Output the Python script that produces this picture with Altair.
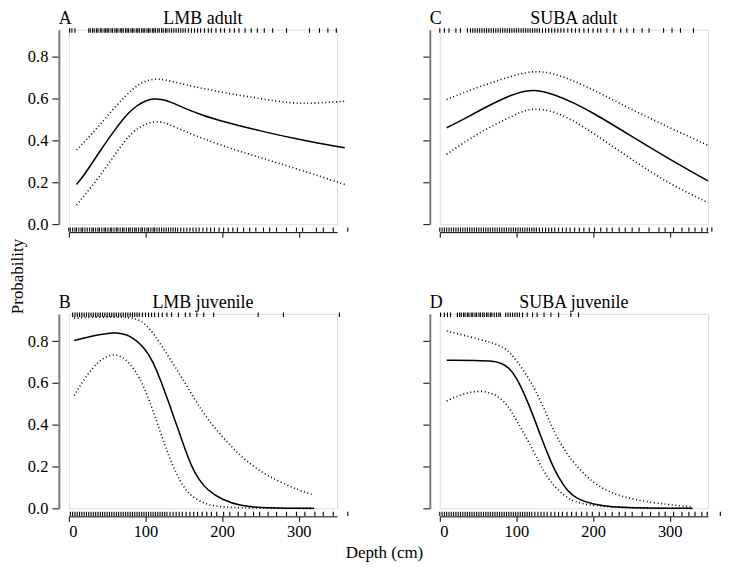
import altair as alt
import pandas as pd

FONT = "Liberation Serif"

# ---------------- Panel A: LMB adult ----------------
a_fit_d = [10, 20, 30, 40, 50, 62, 75, 88, 100, 110, 120, 135, 150, 175, 200, 250, 300, 360]
a_fit_p = [0.19, 0.235, 0.29, 0.345, 0.40, 0.46, 0.523, 0.566, 0.59, 0.6, 0.599, 0.582,
           0.555, 0.52, 0.492, 0.445, 0.405, 0.365]
a_up_d = [10, 30, 50, 75, 90, 100, 112, 125, 150, 200, 250, 290, 320, 360]
a_up_p = [0.355, 0.43, 0.517, 0.62, 0.666, 0.685, 0.695, 0.692, 0.668, 0.63, 0.60, 0.578,
          0.577, 0.588]
a_lo_d = [10, 30, 50, 75, 90, 100, 115, 130, 150, 200, 250, 300, 360]
a_lo_p = [0.092, 0.18, 0.278, 0.413, 0.46, 0.479, 0.495, 0.48, 0.445, 0.374, 0.318, 0.262,
          0.19]
a_rug_top = [1, 4, 8, 26, 28, 31, 33, 36, 38, 41, 43, 46, 48, 50, 52, 55, 57, 60, 62, 64,
             67, 69, 71, 74, 76, 78, 81, 83, 85, 88, 90, 92, 95, 97, 99, 102, 104, 106, 109,
             111, 113, 116, 118, 121, 123, 126, 128, 131, 134, 137, 140, 143, 146, 149, 152,
             156, 160, 164, 168, 172, 177, 182, 186, 192, 198, 203, 210, 216, 222, 230, 238,
             246, 255, 266, 284, 314, 327, 338, 349]
a_rug_bot = [0, 2, 5, 8, 10, 13, 16, 18, 21, 24, 27, 30, 32, 35, 38, 40, 43, 46, 48, 51, 54,
             56, 59, 62, 64, 67, 70, 72, 75, 78, 80, 83, 86, 88, 91, 94, 96, 99, 102, 104, 107,
             110, 112, 115, 118, 121, 124, 127, 130, 133, 136, 139, 142, 146, 150, 154, 158,
             162, 166, 170, 175, 180, 185, 190, 196, 202, 208, 214, 220, 228, 236, 244, 254,
             262, 271, 284, 297, 305, 323, 332, 345, 364]

# ---------------- Panel C: SUBA adult ----------------
c_fit_d = [9, 30, 50, 75, 100, 123, 150, 175, 200, 250, 300, 350]
c_fit_p = [0.461, 0.50, 0.54, 0.588, 0.628, 0.647, 0.62, 0.58, 0.533, 0.421, 0.31, 0.207]
c_up_d = [9, 50, 100, 125, 150, 175, 200, 250, 300, 350]
c_up_p = [0.596, 0.657, 0.716, 0.735, 0.72, 0.685, 0.644, 0.549, 0.461, 0.377]
c_lo_d = [9, 50, 100, 120, 150, 175, 200, 250, 300, 350]
c_lo_p = [0.334, 0.437, 0.528, 0.557, 0.54, 0.493, 0.437, 0.31, 0.191, 0.103]
c_rug_top = [0, 6, 12, 21, 27, 36, 40, 43, 46, 49, 52, 55, 58, 61, 64, 67, 70, 73, 76, 79, 82,
             85, 88, 91, 94, 97, 100, 103, 106, 109, 112, 115, 118, 121, 124, 127, 130, 134,
             138, 142, 146, 150, 154, 158, 162, 167, 172, 177, 182, 188, 194, 200, 206, 210,
             218, 227, 236, 244, 253, 264, 273, 292, 303, 314, 331]
c_rug_bot = [0, 3, 6, 9, 12, 15, 18, 21, 24, 27, 30, 33, 36, 39, 42, 45, 48, 51, 54, 57, 60,
             63, 66, 69, 72, 75, 78, 81, 84, 87, 90, 93, 96, 99, 102, 105, 108, 111, 114, 117,
             120, 123, 126, 130, 134, 138, 142, 146, 150, 155, 160, 165, 170, 176, 182, 188,
             195, 202, 210, 218, 225, 234, 242, 251, 260, 273, 286, 294, 305, 316, 325, 333,
             342, 349, 355]

# ---------------- Panel B: LMB juvenile ----------------
b_fit_d = [7, 30, 60, 80, 100, 110, 120, 130, 140, 150, 160, 170, 180, 200, 225, 250, 285, 320]
b_fit_p = [0.803, 0.824, 0.845, 0.83, 0.765, 0.70, 0.612, 0.51, 0.405, 0.30, 0.2, 0.135,
           0.09, 0.04, 0.011, 0.003, 0.001, 0.0]
b_up_d = [7, 30, 60, 80, 90, 100, 112, 125, 150, 175, 200, 225, 250, 275, 300, 320]
b_up_p = [0.91, 0.915, 0.915, 0.913, 0.905, 0.882, 0.83, 0.755, 0.612, 0.453, 0.342, 0.246,
          0.175, 0.127, 0.087, 0.064]
b_lo_d = [7, 30, 55, 75, 90, 100, 110, 120, 130, 140, 150, 160, 180, 200, 250, 320]
b_lo_p = [0.54, 0.678, 0.748, 0.718, 0.64, 0.565, 0.465, 0.358, 0.255, 0.167, 0.1, 0.056,
          0.017, 0.005, 0.001, 0.0]
b_rug_top = [5, 8, 11, 14, 17, 20, 23, 26, 29, 32, 35, 38, 41, 44, 47, 50, 53, 56, 59, 62, 65,
             68, 71, 74, 77, 80, 83, 86, 89, 92, 96, 100, 104, 108, 112, 117, 122, 128, 134,
             143, 152, 158, 167, 176, 189, 247, 280, 353]
b_rug_bot = [2, 5, 8, 11, 14, 17, 20, 23, 26, 29, 32, 35, 38, 41, 44, 47, 50, 53, 56, 59, 62,
             65, 68, 71, 74, 77, 80, 83, 86, 89, 92, 95, 98, 101, 104, 107, 110, 113, 116, 119,
             122, 125, 128, 132, 136, 140, 144, 148, 153, 158, 163, 168, 174, 180, 186, 193,
             202, 210, 221, 230, 241, 249, 260, 271, 284, 297, 308, 321, 332, 345, 364]

# ---------------- Panel D: SUBA juvenile ----------------
d_fit_d = [9, 50, 70, 80, 91, 100, 110, 121, 132, 143, 154, 167, 180, 200, 225, 250, 290, 330]
d_fit_p = [0.708, 0.708, 0.704, 0.695, 0.672, 0.625, 0.55, 0.453, 0.342, 0.239, 0.151, 0.08,
           0.043, 0.019, 0.007, 0.003, 0.001, 0.0]
d_up_d = [9, 50, 80, 91, 100, 115, 125, 139, 150, 163, 175, 200, 225, 250, 300, 330]
d_up_p = [0.848, 0.811, 0.78, 0.747, 0.708, 0.628, 0.565, 0.453, 0.358, 0.278, 0.215, 0.119,
          0.072, 0.043, 0.016, 0.008]
d_lo_d = [9, 30, 55, 75, 89, 100, 115, 130, 140, 150, 163, 175, 200, 250, 330]
d_lo_p = [0.514, 0.549, 0.567, 0.541, 0.493, 0.421, 0.326, 0.215, 0.151, 0.103, 0.059, 0.032,
          0.011, 0.002, 0.0]
d_rug_top = [1, 6, 10, 14, 23, 26, 28, 31, 33, 36, 38, 41, 43, 46, 48, 51, 53, 56, 58, 61, 63,
             66, 68, 71, 74, 77, 79, 86, 89, 92, 95, 98, 101, 104, 108, 114, 121, 127, 136,
             145, 155, 171, 181]
d_rug_bot = [0, 3, 6, 9, 12, 15, 18, 21, 24, 27, 30, 33, 36, 39, 42, 45, 48, 51, 54, 57, 60,
             63, 66, 69, 72, 75, 78, 81, 84, 87, 90, 93, 96, 99, 102, 105, 108, 111, 114, 117,
             120, 124, 128, 132, 136, 140, 145, 150, 155, 160, 166, 172, 178, 185, 192, 199,
             208, 216, 225, 234, 242, 251, 264, 275, 286, 294, 305, 316, 325, 333, 342, 349,
             366]

x_ticks = [0, 50, 100, 150, 200, 250, 300, 350]
y_ticks = [0.0, 0.2, 0.4, 0.6, 0.8]

W, H = 269, 195
TICK_FS = 16.5
NAME_FS = 18
AXT_FS = 17


def panel(letter, name, fit_d, fit_p, up_d, up_p, lo_d, lo_p, rug_top, rug_bot,
          bottom_row, left_col):
    fit = pd.DataFrame({"depth": fit_d, "prob": fit_p})
    ci = pd.DataFrame({
        "depth": up_d + lo_d,
        "prob": up_p + lo_p,
        "band": ["upper"] * len(up_d) + ["lower"] * len(lo_d),
    })
    rt = pd.DataFrame({"depth": rug_top})
    rb = pd.DataFrame({"depth": rug_bot})
    lab = pd.DataFrame({"letter": [letter], "name": [name]})

    xs = alt.Scale(domain=[0, 350], nice=False, zero=False)
    ys = alt.Scale(domain=[0, 0.93], nice=False, zero=False)

    x_kw = dict(values=x_ticks, grid=False, offset=8, tickSize=5, domainColor="black",
                tickColor="black", labels=bottom_row, labelFont=FONT, labelFontSize=TICK_FS,
                labelColor="black", labelPadding=2,
                labelExpr="datum.value % 100 == 0 ? datum.label : ''")
    if bottom_row and left_col:
        x_axis = alt.Axis(title="Depth (cm)", titleFont=FONT, titleFontSize=AXT_FS,
                          titleFontWeight="normal", titleColor="black",
                          titleX=316, titleY=41, titleAlign="center",
                          titleBaseline="alphabetic", **x_kw)
    else:
        x_axis = alt.Axis(title=None, **x_kw)

    y_kw = dict(values=y_ticks, format=".1f", grid=False, offset=10, tickSize=7,
                domainColor="#7a7a7a", domainWidth=2, tickColor="black", labels=left_col,
                labelFont=FONT, labelFontSize=TICK_FS, labelColor="black", labelPadding=4)
    if left_col and not bottom_row:
        y_axis = alt.Axis(title="Probability", titleFont=FONT, titleFontSize=AXT_FS,
                          titleFontWeight="normal", titleColor="black",
                          titleX=-36, titleY=247, titleAngle=270, titleAlign="center",
                          titleBaseline="alphabetic", **y_kw)
    else:
        y_axis = alt.Axis(title=None, **y_kw)

    base_x = alt.X("depth:Q", scale=xs, axis=x_axis)
    base_y = alt.Y("prob:Q", scale=ys, axis=y_axis)

    fit_line = alt.Chart(fit).mark_line(color="black", strokeWidth=1.5,
                                        interpolate="basis").encode(x=base_x, y=base_y)
    ci_line = alt.Chart(ci).mark_line(color="black", strokeWidth=1.6, strokeDash=[1, 2.6],
                                      interpolate="basis").encode(
        x=alt.X("depth:Q", scale=xs), y=alt.Y("prob:Q", scale=ys), detail="band:N")
    rug_t = alt.Chart(rt).mark_rule(color="black", strokeWidth=1.1).encode(
        x=alt.X("depth:Q", scale=xs), y=alt.datum(0.915), y2=alt.datum(0.937))
    rug_b = alt.Chart(rb).mark_rule(color="black", strokeWidth=1.1).encode(
        x=alt.X("depth:Q", scale=xs), y=alt.datum(-0.016), y2=alt.datum(-0.036))
    let = alt.Chart(lab).mark_text(font=FONT, fontSize=NAME_FS, align="left",
                                   baseline="alphabetic", color="black").encode(
        text="letter:N", x=alt.value(-10), y=alt.value(-6))
    nm = alt.Chart(lab).mark_text(font=FONT, fontSize=NAME_FS, align="center",
                                  baseline="alphabetic", color="black").encode(
        text="name:N", x=alt.value(W / 2), y=alt.value(-6))

    return alt.layer(fit_line, ci_line, rug_t, rug_b, let, nm).properties(width=W, height=H)


pA = panel("A", "LMB adult", a_fit_d, a_fit_p, a_up_d, a_up_p, a_lo_d, a_lo_p,
           a_rug_top, a_rug_bot, False, True)
pC = panel("C", "SUBA adult", c_fit_d, c_fit_p, c_up_d, c_up_p, c_lo_d, c_lo_p,
           c_rug_top, c_rug_bot, False, False)
pB = panel("B", "LMB juvenile", b_fit_d, b_fit_p, b_up_d, b_up_p, b_lo_d, b_lo_p,
           b_rug_top, b_rug_bot, True, True)
pD = panel("D", "SUBA juvenile", d_fit_d, d_fit_p, d_up_d, d_up_p, d_lo_d, d_lo_p,
           d_rug_top, d_rug_bot, True, False)

chart = alt.concat(pA, pC, pB, pD, columns=2,
                   spacing=alt.RowColnumber(row=90, column=103),
                   bounds="flush").properties(
    padding={"left": 0, "top": 0, "right": 0, "bottom": 0}
).configure_view(stroke=None).configure(background="white")

chart.save("out.html", embed_options={"renderer": "svg", "actions": False})
